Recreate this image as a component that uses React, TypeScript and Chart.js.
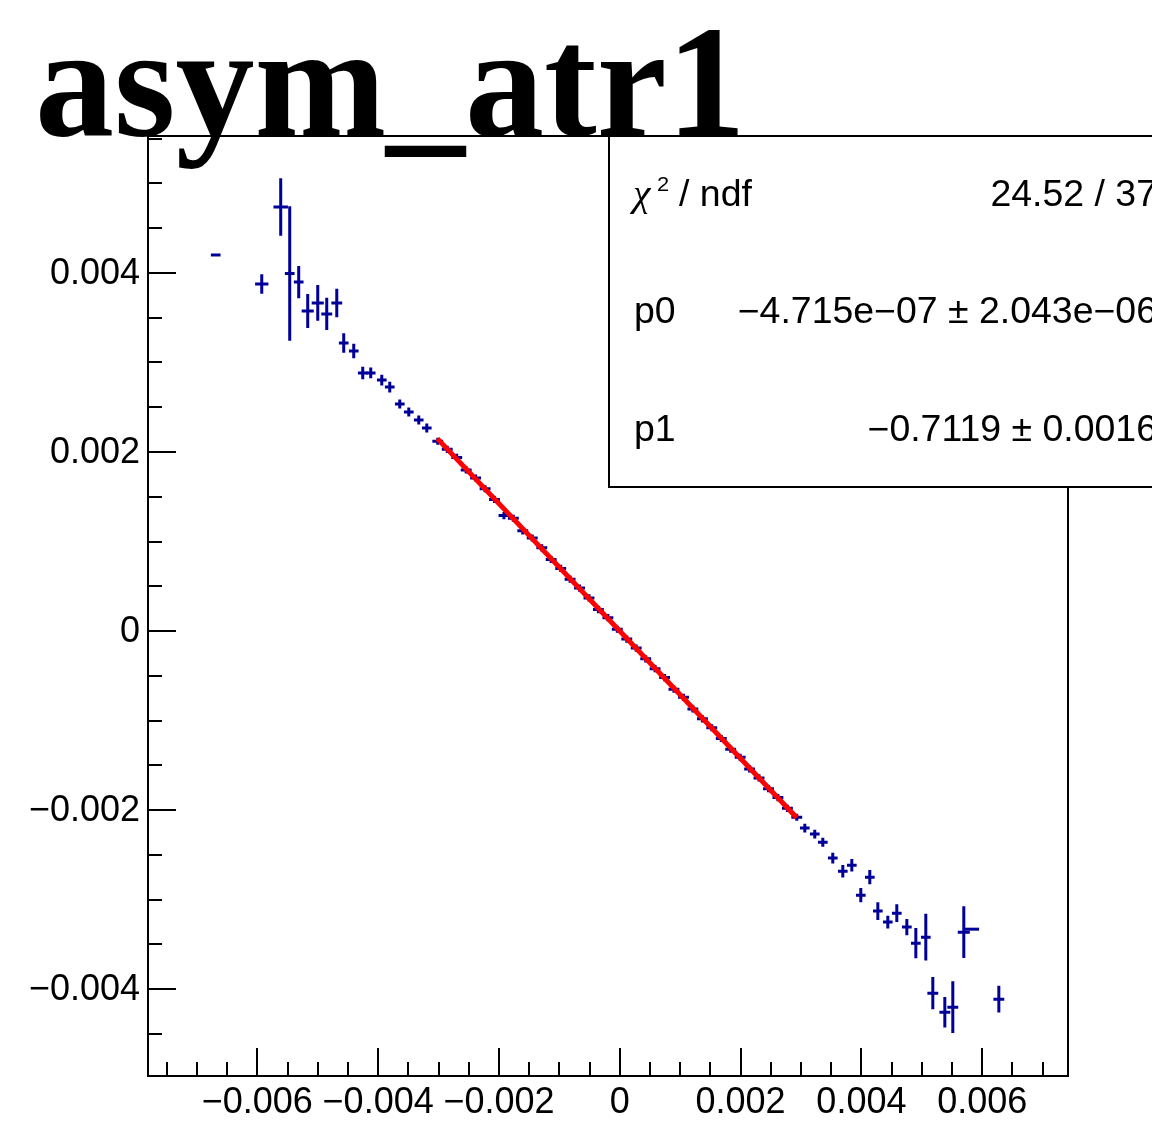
import React, { useEffect, useRef } from 'react';
import { Chart, registerables } from 'chart.js';

Chart.register(...registerables);

// ---------- data ----------
const chartTitle = 'asym_atr1';

const xVals = [
  -0.006689, -0.005927, -0.005613, -0.005464, -0.005315, -0.005166, -0.005000, -0.004851,
  -0.004685, -0.004570, -0.004404, -0.004255, -0.004123, -0.003940, -0.003808, -0.003642,
  -0.003493, -0.003328, -0.003195,
  -0.003013, -0.002856, -0.002699, -0.002543, -0.002387, -0.002230, -0.002074, -0.001917,
  -0.001762, -0.001606, -0.001449, -0.001291, -0.001136, -0.000978, -0.000823, -0.000666,
  -0.000510, -0.000354, -0.000197, -0.000041, 0.000116, 0.000272, 0.000429, 0.000584,
  0.000742, 0.000897, 0.001055, 0.001210, 0.001368, 0.001523, 0.001680, 0.001836,
  0.001993, 0.002149, 0.002305, 0.002462, 0.002618, 0.002775, 0.002930,
  0.003063, 0.003228, 0.003361, 0.003526, 0.003692, 0.003841, 0.003990, 0.004139,
  0.004272, 0.004437, 0.004586, 0.004752, 0.004901, 0.005066, 0.005182, 0.005381,
  0.005513, 0.005695, 0.005828, 0.006275,
];

const yVals = [
  0.004201, 0.003877, 0.004737, 0.003994, 0.003899, 0.003575, 0.003665, 0.003542,
  0.003665, 0.003218, 0.003128, 0.002883, 0.002883, 0.002804, 0.002726, 0.002536,
  0.002447, 0.002358, 0.002268,
  0.00212, 0.00203, 0.00194, 0.00180, 0.00171, 0.00159, 0.00147, 0.00129,
  0.00126, 0.00112, 0.00104, 0.00093, 0.00080, 0.00070, 0.00058, 0.00048,
  0.00037, 0.00024, 0.00015, 0.00002, -0.00009, -0.00019, -0.00031, -0.00042,
  -0.00052, -0.00065, -0.00074, -0.00087, -0.00098, -0.00108, -0.00120, -0.00132,
  -0.00141, -0.00154, -0.00164, -0.00176, -0.00186, -0.00198, -0.00208,
  -0.002201, -0.002268, -0.002358, -0.002536, -0.002682, -0.002615, -0.002950, -0.002749,
  -0.003128, -0.003251, -0.003151, -0.003307, -0.003486, -0.003419, -0.004045, -0.004257,
  -0.004201, -0.003363, -0.003330, -0.004112,
];

const xErrs = [
  0.00008, 0.00011, 0.00012, 0.00008, 0.00008, 0.00010, 0.00010, 0.00009,
  0.00009, 0.00008, 0.00008, 0.00008, 0.00008, 0.00008, 0.00008, 0.00008,
  0.00008, 0.00008, 0.00008,
  0.00009, 0.00009, 0.00009, 0.00009, 0.00009, 0.00009, 0.00009, 0.00009,
  0.00009, 0.00009, 0.00009, 0.00009, 0.00009, 0.00009, 0.00009, 0.00009,
  0.00009, 0.00009, 0.00009, 0.00009, 0.00009, 0.00009, 0.00009, 0.00009,
  0.00009, 0.00009, 0.00009, 0.00009, 0.00009, 0.00009, 0.00009, 0.00009,
  0.00009, 0.00009, 0.00009, 0.00009, 0.00009, 0.00009, 0.00009,
  0.00008, 0.00008, 0.00008, 0.00008, 0.00008, 0.00008, 0.00008, 0.00008,
  0.00008, 0.00008, 0.00008, 0.00008, 0.00008, 0.00008, 0.00009, 0.00009,
  0.00009, 0.00010, 0.00012, 0.00009,
];

const yErrs = [
  0.000003, 0.00011, 0.00032, 0.00075, 0.00018, 0.00019, 0.00020, 0.00018,
  0.00016, 0.00011, 0.00008, 0.00007, 0.00006, 0.00006, 0.00006, 0.00005,
  0.00005, 0.00005, 0.00005,
  0.00004, 0.00004, 0.00004, 0.00004, 0.00004, 0.00004, 0.00004, 0.00004,
  0.00004, 0.00004, 0.00004, 0.00004, 0.00004, 0.00004, 0.00004, 0.00004,
  0.00004, 0.00004, 0.00004, 0.00004, 0.00004, 0.00004, 0.00004, 0.00004,
  0.00004, 0.00004, 0.00004, 0.00004, 0.00004, 0.00004, 0.00004, 0.00004,
  0.00004, 0.00004, 0.00004, 0.00004, 0.00004, 0.00004, 0.00004,
  0.00005, 0.00005, 0.00005, 0.00006, 0.00007, 0.00007, 0.00008, 0.00008,
  0.00010, 0.00007, 0.00010, 0.00009, 0.00017, 0.00026, 0.00018, 0.00017,
  0.00029, 0.00029, 0.000003, 0.00015,
];

const fitP0 = -4.715e-7;
const fitP1 = -0.7119;
const fitRange = [-0.00302, 0.00293];

const statsLabels = ['p0', 'p1'];
const statsValues = [
  '24.52 / 37',
  '\u22124.715e\u221207 \u00B1 2.043e\u221206',
  '\u22120.7119 \u00B1 0.0016',
];

const xAxisRange = [-0.00781, 0.00742];
const yAxisRange = [-0.00497, 0.00553];
const xTickValues = [-0.006, -0.004, -0.002, 0, 0.002, 0.004, 0.006];
const xTickLabels = ['\u22120.006', '\u22120.004', '\u22120.002', '0', '0.002', '0.004', '0.006'];
const yTickValues = [-0.004, -0.002, 0, 0.002, 0.004];
const yTickLabels = ['\u22120.004', '\u22120.002', '0', '0.002', '0.004'];
const minorStep = 0.0005;

// ---------- styles ----------
const BLUE = '#000099';
const RED = '#ff0000';
const SANS = '"Liberation Sans", Arial, Helvetica, sans-serif';
const SERIF = '"Liberation Serif", "Times New Roman", serif';

const errorBarPlugin = {
  id: 'rootErrorBars',
  beforeDatasetsDraw(chart: any) {
    const ctx = chart.ctx;
    const xs = chart.scales.x;
    const ys = chart.scales.y;
    ctx.save();
    ctx.strokeStyle = BLUE;
    ctx.lineWidth = 3;
    ctx.lineCap = 'butt';
    for (let i = 0; i < xVals.length; i++) {
      const x = xVals[i];
      const y = yVals[i];
      const px = xs.getPixelForValue(x);
      const py = ys.getPixelForValue(y);
      const pl = xs.getPixelForValue(x - xErrs[i]);
      const pr = xs.getPixelForValue(x + xErrs[i]);
      const pt = ys.getPixelForValue(y + yErrs[i]);
      const pb = ys.getPixelForValue(y - yErrs[i]);
      ctx.beginPath();
      ctx.moveTo(pl, py);
      ctx.lineTo(pr, py);
      if (pb - pt > 1) {
        ctx.moveTo(px, pt);
        ctx.lineTo(px, pb);
      }
      ctx.stroke();
    }
    ctx.restore();
  },
};

function minorTicks(min: number, max: number) {
  const out: number[] = [];
  const start = Math.ceil(min / minorStep);
  const end = Math.floor(max / minorStep);
  for (let k = start; k <= end; k++) out.push(k * minorStep);
  return out;
}

function isMajorVal(v: number) {
  return Math.abs(v / 0.002 - Math.round(v / 0.002)) < 1e-6;
}

const framePlugin = {
  id: 'rootFrame',
  beforeDraw(chart: any) {
    const ctx = chart.ctx;
    ctx.save();
    ctx.fillStyle = '#ffffff';
    ctx.fillRect(0, 0, chart.width, chart.height);
    ctx.restore();
  },
  afterDatasetsDraw(chart: any) {
    const ctx = chart.ctx;
    const { left, right, top, bottom } = chart.chartArea;
    const xs = chart.scales.x;
    const ys = chart.scales.y;
    ctx.save();
    ctx.strokeStyle = '#000';
    ctx.lineWidth = 2;
    ctx.beginPath();
    minorTicks(xAxisRange[0], xAxisRange[1]).forEach((v) => {
      const p = Math.round(xs.getPixelForValue(v));
      if (p <= left + 1 || p >= right - 1) return;
      const len = isMajorVal(v) ? 28 : 14;
      ctx.moveTo(p, bottom);
      ctx.lineTo(p, bottom - len);
    });
    minorTicks(yAxisRange[0], yAxisRange[1]).forEach((v) => {
      const p = Math.round(ys.getPixelForValue(v));
      if (p <= top + 1 || p >= bottom - 1) return;
      const len = isMajorVal(v) ? 28 : 14;
      ctx.moveTo(left, p);
      ctx.lineTo(left + len, p);
    });
    ctx.stroke();
    ctx.strokeRect(left, top, right - left, bottom - top);

    // tick labels
    ctx.fillStyle = '#000';
    ctx.font = `36px ${SANS}`;
    ctx.textAlign = 'center';
    ctx.textBaseline = 'middle';
    xTickValues.forEach((v, i) => {
      ctx.fillText(xTickLabels[i], xs.getPixelForValue(v), bottom + 27);
    });
    ctx.textAlign = 'right';
    yTickValues.forEach((v, i) => {
      ctx.fillText(yTickLabels[i], left - 8, ys.getPixelForValue(v) + 1);
    });
    ctx.restore();
  },
  afterDraw(chart: any) {
    const ctx = chart.ctx;
    const top = chart.chartArea.top;
    ctx.save();
    // stats box
    const bx = 609;
    const by = top;
    const bw = 560;
    const bh = 487 - top;
    ctx.fillStyle = '#fff';
    ctx.fillRect(bx, by, bw, bh);
    ctx.strokeStyle = '#000';
    ctx.lineWidth = 2;
    ctx.strokeRect(bx, by, bw, bh);

    ctx.fillStyle = '#000';
    ctx.textBaseline = 'alphabetic';
    const rowsY = [206, 323, 441];
    const fs = 36;
    const sx = 1.04;
    const drawText = (txt: string, x: number, y: number, align: 'left' | 'right', font: string) => {
      ctx.save();
      ctx.font = font;
      ctx.textAlign = align;
      ctx.translate(x, y);
      ctx.scale(sx, 1);
      ctx.fillText(txt, 0, 0);
      ctx.restore();
    };
    // chi2 / ndf label
    drawText('\u03C7', 633, rowsY[0], 'left', `italic 38px ${SERIF}`);
    drawText('2', 657, rowsY[0] - 15, 'left', `21px ${SANS}`);
    drawText('/ ndf', 679, rowsY[0], 'left', `${fs}px ${SANS}`);
    drawText(statsLabels[0], 634, rowsY[1], 'left', `${fs}px ${SANS}`);
    drawText(statsLabels[1], 634, rowsY[2], 'left', `${fs}px ${SANS}`);
    for (let i = 0; i < 3; i++) drawText(statsValues[i], 1157, rowsY[i], 'right', `${fs}px ${SANS}`);

    // title
    ctx.font = `bold 158px ${SERIF}`;
    ctx.textAlign = 'left';
    ctx.textBaseline = 'alphabetic';
    ctx.fillStyle = '#000';
    ctx.fillText(chartTitle, 35, 135);
    ctx.restore();
  },
};

export default function App() {
  const canvasRef = useRef<HTMLCanvasElement | null>(null);

  useEffect(() => {
    const canvas = canvasRef.current;
    if (!canvas) return;
    const points = xVals.map((x, i) => ({ x, y: yVals[i] }));
    const fitPoints = fitRange.map((x) => ({ x, y: fitP0 + fitP1 * x }));
    const chart = new Chart(canvas, {
      type: 'scatter',
      data: {
        datasets: [
          {
            label: 'fit',
            type: 'line',
            data: fitPoints,
            borderColor: RED,
            borderWidth: 5,
            pointRadius: 0,
            fill: false,
          } as any,
          {
            label: 'asym_atr1',
            data: points,
            pointRadius: 0,
            showLine: false,
            borderColor: BLUE,
            backgroundColor: BLUE,
          },
        ],
      },
      options: {
        responsive: false,
        animation: false,
        devicePixelRatio: 1,
        events: [],
        layout: { padding: { top: 136, right: 84, left: 0, bottom: 0 } },
        plugins: {
          legend: { display: false },
          tooltip: { enabled: false },
          title: { display: false },
        },
        scales: {
          x: {
            type: 'linear',
            min: xAxisRange[0],
            max: xAxisRange[1],
            afterFit: (s: any) => {
              s.height = 68;
            },
            grid: { display: false, drawTicks: false },
            border: { display: false },
            ticks: { display: false },
          },
          y: {
            type: 'linear',
            min: yAxisRange[0],
            max: yAxisRange[1],
            afterFit: (s: any) => {
              s.width = 148;
            },
            grid: { display: false, drawTicks: false },
            border: { display: false },
            ticks: { display: false },
          },
        },
      } as any,
      plugins: [framePlugin, errorBarPlugin],
    });
    return () => chart.destroy();
  }, []);

  return (
    <div style={{ position: 'absolute', left: 0, top: 0, width: 1152, height: 1144, background: '#fff' }}>
      <canvas ref={canvasRef} width={1152} height={1144} style={{ display: 'block', width: 1152, height: 1144 }} />
    </div>
  );
}
